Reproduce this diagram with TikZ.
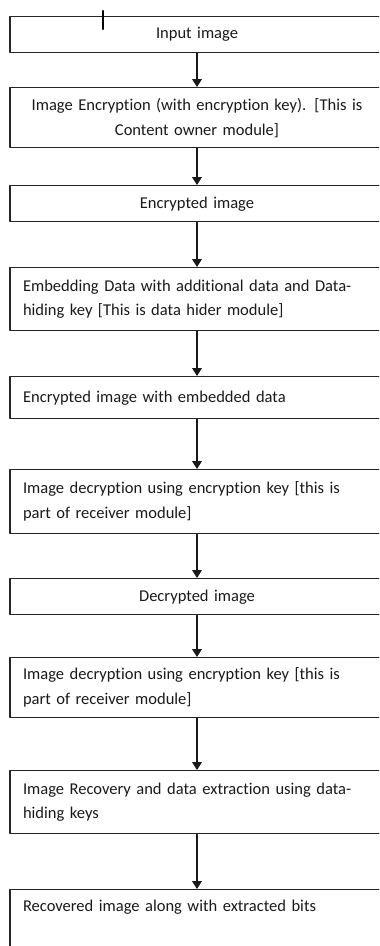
\documentclass[tikz,border=0pt]{standalone}
\usepackage{fontspec}
\setmainfont{Carlito}[Ligatures=NoCommon]
\usepackage{tikz}
\usetikzlibrary{arrows.meta}

\begin{document}
\begin{tikzpicture}[line cap=round,line join=round,x=0.02cm,y=-0.02cm,
  box/.style={draw=black!85,line width=0.8pt,anchor=north,inner xsep=0.26cm,inner ysep=0.2cm,
    text width=6.96cm,font=\fontsize{9.4}{14.2}\selectfont,text=black!90},
  flow/.style={-{Triangle[width=5.5pt,length=4.5pt]},line width=0.7pt,color=black!90}]
%  \draw[step=20,gray,very thin] (0,0) grid (379,946);

\clip (0,0) rectangle (379,946);

\node[box,align=center,minimum height=0.72cm] (b1) at (197,16) {Input image};
\node[box,align=center,minimum height=1.2cm] (b2) at (197,87) {Image Encryption (with encryption key). [This is\\ Content owner module]};
\node[box,align=center,minimum height=0.72cm] (b3) at (197,185) {Encrypted image};
\node[box,align=left,minimum height=1.26cm] (b4) at (197,267) {Embedding Data with additional data and Data-\\hiding key [This is data hider module]};
\node[box,align=left,minimum height=0.84cm] (b5) at (197,376) {Encrypted image with embedded data};
\node[box,align=left,minimum height=1.28cm] (b6) at (197,469) {Image decryption using encryption key [this is\\part of receiver module]};
\node[box,align=center,minimum height=0.72cm] (b7) at (197,578) {Decrypted image};
\node[box,align=left,minimum height=1.18cm] (b8) at (197,657) {Image decryption using encryption key [this is\\part of receiver module]};
\node[box,align=left,minimum height=1.26cm] (b9) at (197,770) {Image Recovery and data extraction using data-\\hiding keys};
\node[box,align=left,text depth=1cm] (b10) at (197,889) {Recovered image along with extracted bits};

% text cursor
\draw[line width=1.2pt] (103,11) -- (103,29);

\draw[flow] (b1) -- (b2);
\draw[flow] (b2) -- (b3);
\draw[flow] (b3) -- (b4);
\draw[flow] (b4) -- (b5);
\draw[flow] (b5) -- (b6);
\draw[flow] (b6) -- (b7);
\draw[flow] (b7) -- (b8);
\draw[flow] (b8) -- (b9);
\draw[flow] (b9) -- (b10);

\end{tikzpicture}
\end{document}
